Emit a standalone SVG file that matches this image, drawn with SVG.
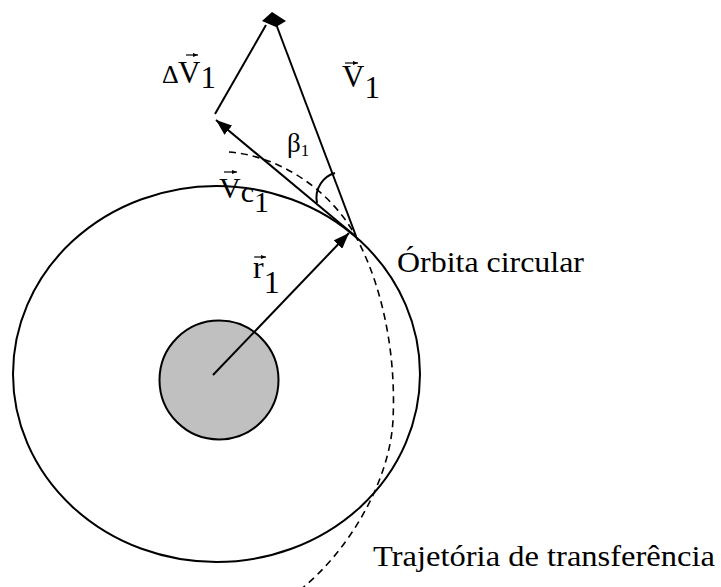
<svg xmlns="http://www.w3.org/2000/svg" width="721" height="587" viewBox="0 0 721 587">
<defs>
<style>
.ln{fill:none;stroke:#000;stroke-width:2}
.dash{fill:none;stroke:#000;stroke-width:1.6;stroke-dasharray:7 5}
.t{font-family:"Liberation Serif","Times New Roman",serif;fill:#000}
.acc{fill:none;stroke:#000;stroke-width:1.2}
</style>
<marker id="ah" viewBox="0 0 16 12" refX="16" refY="6" markerWidth="16" markerHeight="12" markerUnits="userSpaceOnUse" orient="auto">
<path d="M0,0 L16,6 L0,12 z" fill="#000"/>
</marker>
<marker id="sa" viewBox="0 0 5 4" refX="5" refY="2" markerWidth="5" markerHeight="4" markerUnits="userSpaceOnUse" orient="auto">
<path d="M0,0 L5,2 L0,4 z" fill="#000"/>
</marker>
</defs>
<rect width="721" height="587" fill="#fff"/>
<g id="orbita">
<ellipse cx="216.5" cy="374" rx="203.5" ry="188" class="ln"/>
</g>
<g id="planeta">
<circle cx="219" cy="380" r="59.5" fill="#c0c0c0" stroke="#000" stroke-width="2"/>
</g>
<g id="trajetoria">
<path class="dash" d="M229,152 C280,156 330,190 355,235 C385,290 396,360 393,420 C390,480 350,550 300,590"/>
</g>
<g id="connectors">
<line class="ln" x1="213" y1="375" x2="349" y2="233" marker-end="url(#ah)"/>
<line class="ln" x1="354" y1="235" x2="216" y2="120" marker-end="url(#ah)"/>
<line class="ln" x1="356" y1="236" x2="276" y2="24"/>
<line class="ln" x1="215" y1="114" x2="266" y2="25"/>
<polygon points="262,21 272,12 286,21 276,27" fill="#000"/>
<path class="ln" d="M317,203 C314,188 324,176 335,173" stroke-width="1.6"/>
</g>
<g id="labels">
<text class="t" x="162" y="83" font-size="26">Δ</text>
<text class="t" x="178" y="83" font-size="31">V<tspan dy="5">1</tspan></text>
<line class="acc" x1="186" y1="55" x2="198" y2="55" marker-end="url(#sa)"/>
<text class="t" x="342" y="87" font-size="31">V<tspan dy="11">1</tspan></text>
<line class="acc" x1="345" y1="63" x2="358" y2="63" marker-end="url(#sa)"/>
<text class="t" x="287" y="152" font-size="27">β<tspan font-size="17" dy="4">1</tspan></text>
<text class="t" x="219" y="198" font-size="30">V<tspan dy="4">c</tspan><tspan dy="10">1</tspan></text>
<line class="acc" x1="224" y1="172" x2="237" y2="172" marker-end="url(#sa)"/>
<text class="t" x="253" y="278" font-size="32">r<tspan dy="15">1</tspan></text>
<line class="acc" x1="254" y1="257" x2="266" y2="257" marker-end="url(#sa)"/>
<text class="t" x="397" y="272" font-size="30" textLength="187" lengthAdjust="spacingAndGlyphs">Órbita circular</text>
<text class="t" x="373" y="566" font-size="30" textLength="342" lengthAdjust="spacingAndGlyphs">Trajetória de transferência</text>
</g>
</svg>
